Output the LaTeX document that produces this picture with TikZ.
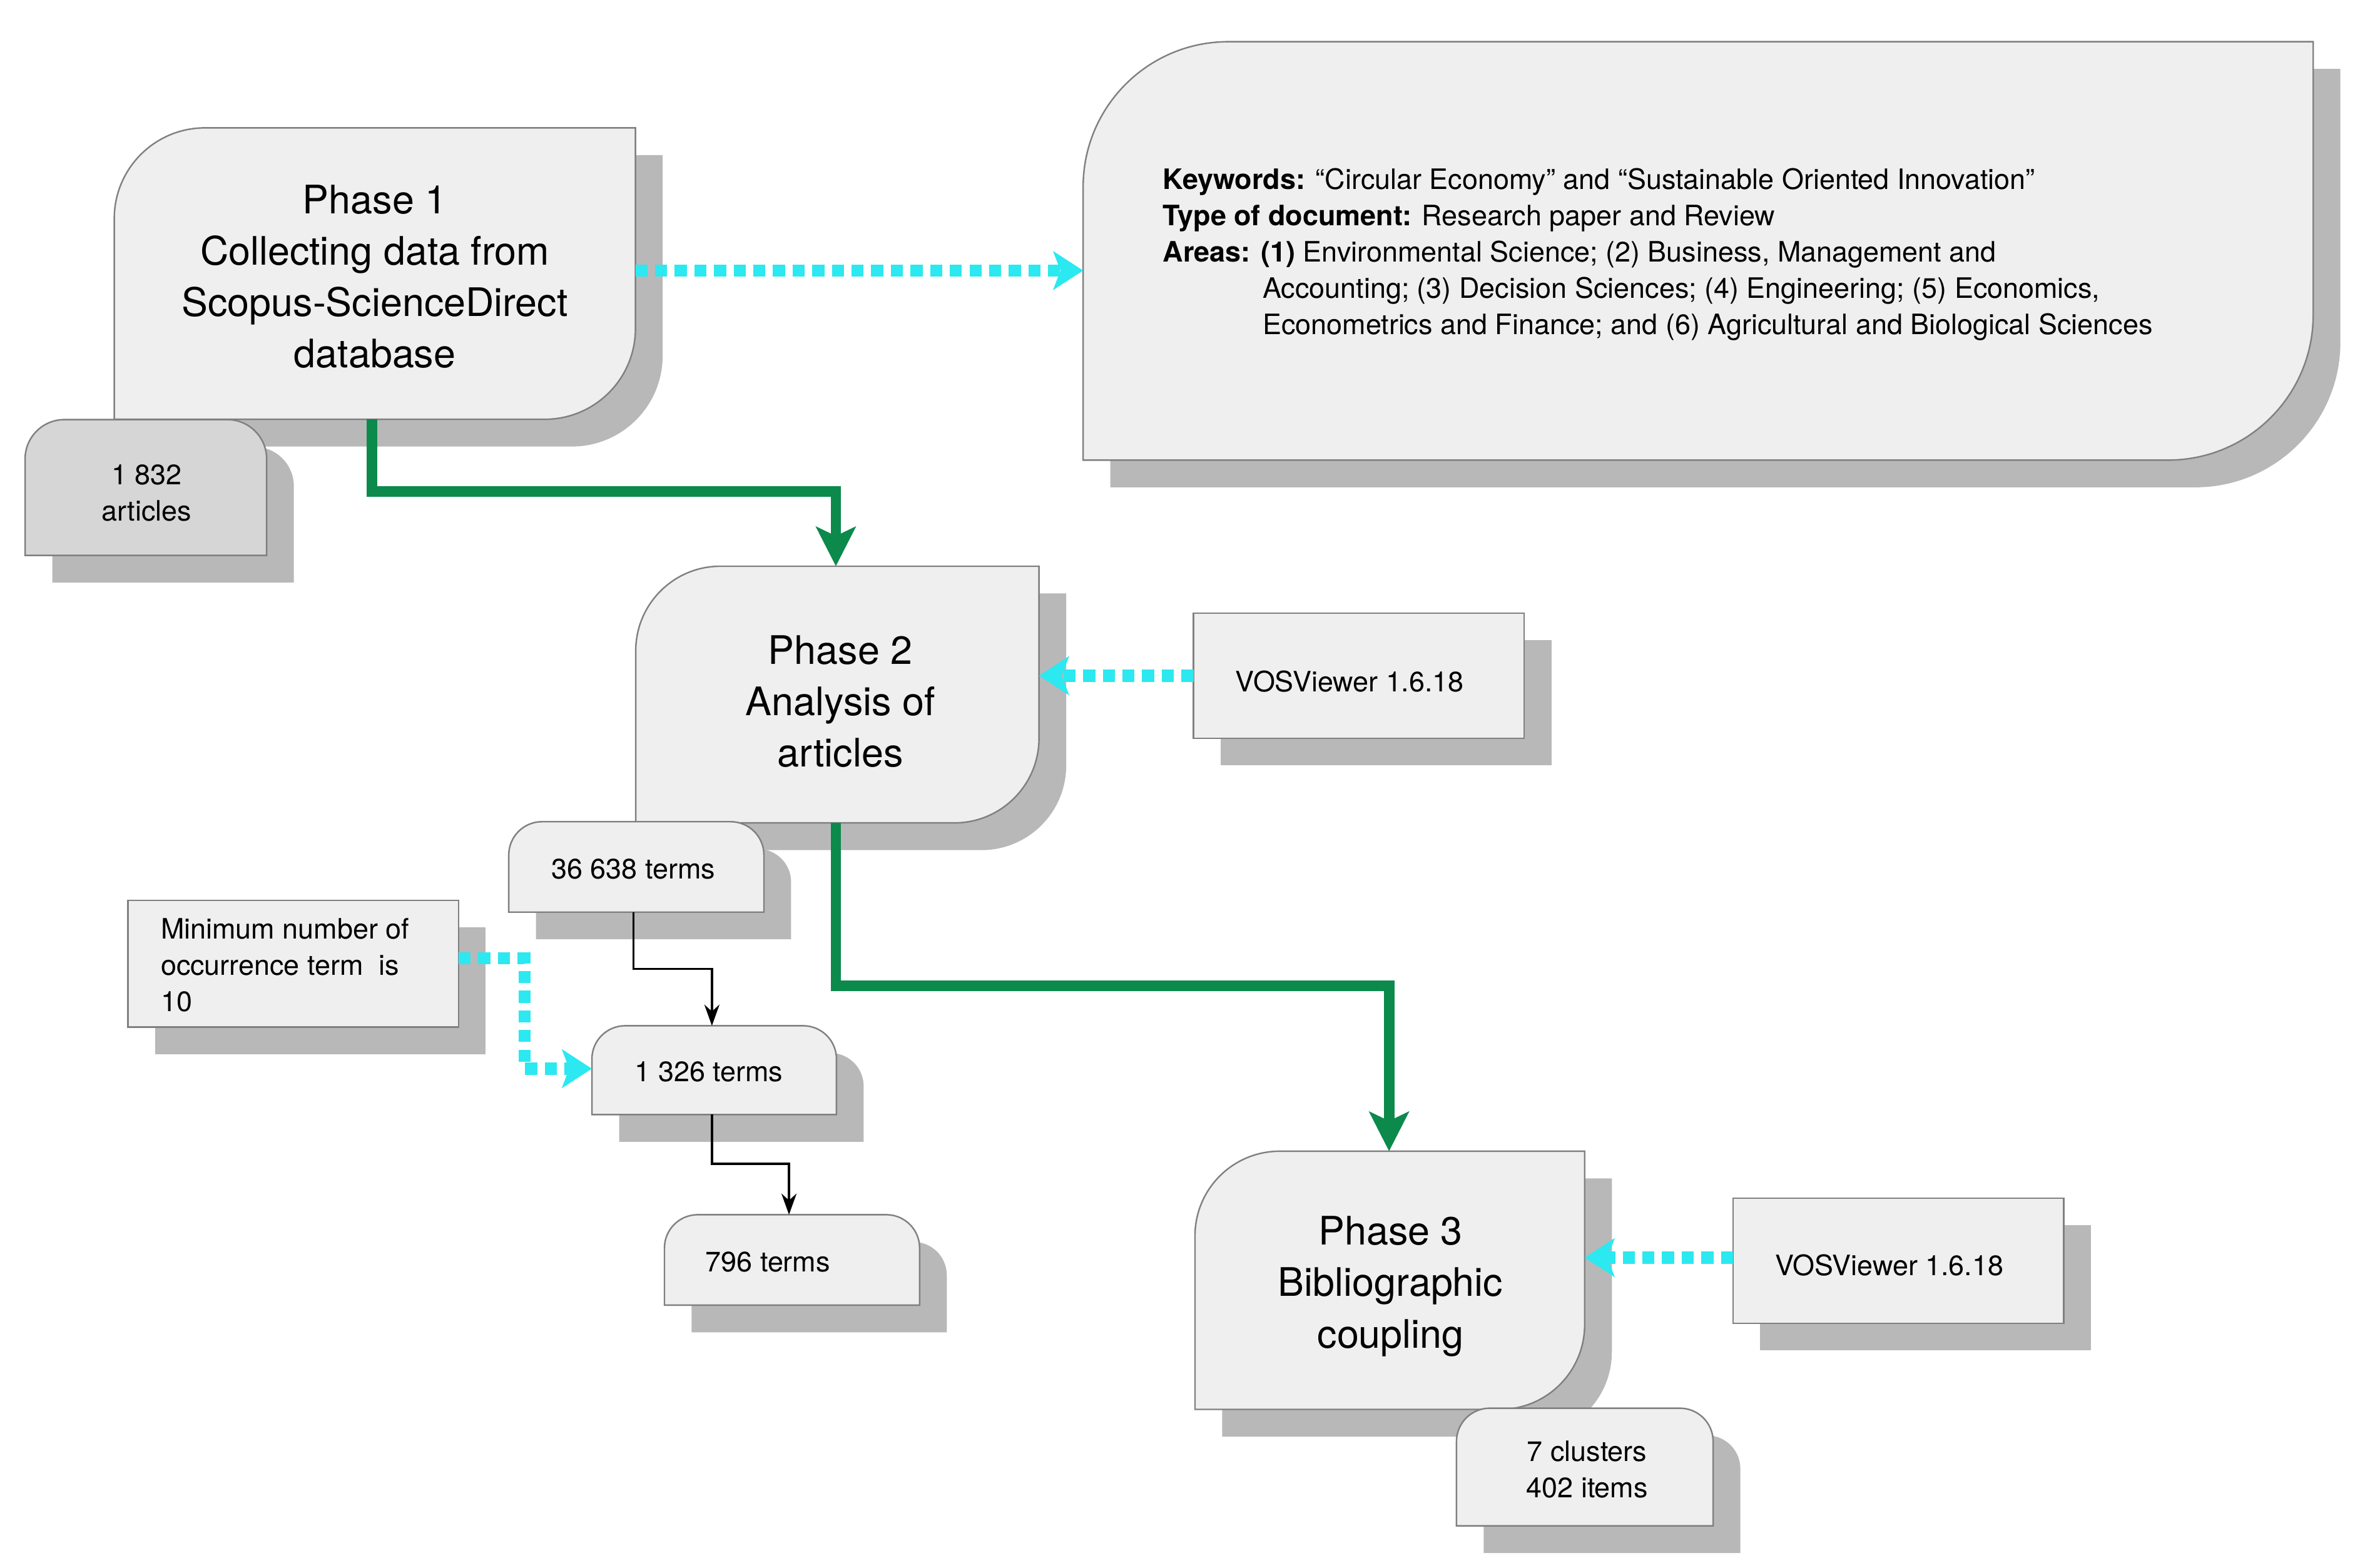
\documentclass[tikz,border=0pt]{standalone}
\usepackage{fontspec}
\setmainfont{TeX Gyre Heros}
\usetikzlibrary{arrows.meta,calc}
\definecolor{shc}{HTML}{B8B8B8}
\definecolor{boxc}{HTML}{EFEFEF}
\definecolor{darkbox}{HTML}{D6D6D6}
\definecolor{edgec}{HTML}{808080}
\definecolor{grn}{HTML}{0B8A4C}
\definecolor{cyn}{HTML}{2CE8F0}
\tikzset{
  boxst/.style={fill=boxc,draw=edgec,line width=0.5pt},
  big/.style={font=\fontsize{13}{17}\selectfont,align=center},
  small/.style={font=\fontsize{9.3}{12}\selectfont},
  area/.style={draw=none,inner sep=0pt},
  green arrow/.style={draw=grn,line width=3.5pt,-{Stealth[length=13pt,width=13pt,inset=3pt]}},
  cyan arrow/.style={draw=cyn,line width=4pt,dash pattern=on 4pt off 2.5pt,-{Stealth[length=10pt,width=13pt,inset=2.5pt,line width=0pt]}},
  black arrow/.style={draw=black,line width=0.7pt,-{Stealth[length=7pt,width=5pt]}},
}
% name, radius, shift, options : phase-like shape (top-left and bottom-right rounded)
\newcommand\PBshape[4]{\path[#4] let \p1=(#1.south west),\p2=(#1.north east) in
  (\x1+#3,\y1-#3) -- (\x1+#3,\y2-#2-#3) arc[start angle=180,end angle=90,radius=#2]
  -- (\x2+#3,\y2-#3) -- (\x2+#3,\y1+#2-#3) arc[start angle=0,end angle=-90,radius=#2] -- cycle;}
\newcommand\PB[2]{\PBshape{#1}{#2}{9pt}{fill=shc}\PBshape{#1}{#2}{0pt}{boxst}}
% tab shape (top corners rounded)
\newcommand\TBshape[4]{\path[#4] let \p1=(#1.south west),\p2=(#1.north east) in
  (\x1+#3,\y1-#3) -- (\x1+#3,\y2-#2-#3) arc[start angle=180,end angle=90,radius=#2]
  -- (\x2-#2+#3,\y2-#3) arc[start angle=90,end angle=0,radius=#2] -- (\x2+#3,\y1-#3) -- cycle;}
\newcommand\TB[3]{\TBshape{#1}{#2}{9pt}{fill=shc}\TBshape{#1}{#2}{0pt}{#3}}
\newcommand\RB[1]{\path[fill=shc] ([shift={(9pt,-9pt)}]#1.south west) rectangle ([shift={(9pt,-9pt)}]#1.north east);
  \path[boxst] (#1.south west) rectangle (#1.north east);}
% area node: name, x1,y1,x2,y2
\newcommand\A[5]{\node[area,minimum width={(#4-#2)*0.5pt},minimum height={(#5-#3)*0.5pt}] (#1) at ({(#2+#4)/2},{(#3+#5)/2}) {};}
\begin{document}
\begin{tikzpicture}[x=0.5pt,y=-0.5pt]
\useasboundingbox (0,0) rectangle (1568,1037);
% areas
\A{kw}{717}{28}{1530}{304}
\A{p1}{76}{85}{420}{277}
\A{a1}{17}{278}{176}{367}
\A{p2}{421}{375}{687}{544}
\A{v1}{790}{406}{1008}{488}
\A{t1}{337}{544}{505}{603}
\A{mn}{85}{596}{303}{679}
\A{t2}{392}{679}{553}{737}
\A{t3}{440}{804}{608}{863}
\A{p3}{791}{762}{1048}{932}
\A{v2}{1147}{793}{1365}{875}
\A{cl}{964}{932}{1133}{1009}
% shapes
\PB{kw}{48pt}
\PB{p1}{30pt}
\TB{a1}{13pt}{fill=darkbox,draw=edgec,line width=0.5pt}
\PB{p2}{28pt}
\RB{v1}
\TB{t1}{11pt}{boxst}
\RB{mn}
\TB{t2}{11pt}{boxst}
\TB{t3}{11pt}{boxst}
\PB{p3}{28pt}
\RB{v2}
\TB{cl}{11pt}{boxst}
% texts
\node[big] (p1t) at (248,183) {Phase 1\\Collecting data from\\Scopus-ScienceDirect\\database};
\node[small,align=center] (a1t) at (97,326) {1 832\\articles};
\node[small,anchor=north west,align=left,inner sep=0pt] (kwt) at (769,111) {%
\textbf{Keywords:} “Circular Economy” and “Sustainable Oriented Innovation”\\
\textbf{Type of document:} Research paper and Review\\
\textbf{Areas:} \textbf{(1)} Environmental Science; (2) Business, Management and\\
\hspace*{33pt}Accounting; (3) Decision Sciences; (4) Engineering; (5) Economics,\\
\hspace*{33pt}Econometrics and Finance; and (6) Agricultural and Biological Sciences};
\node[big] (p2t) at (556,464) {Phase 2\\Analysis of\\articles};
\node[small] (v1t) at (893,451) {VOSViewer 1.6.18};
\node[small] (t1t) at (419,575) {36 638 terms};
\node[small,align=left,anchor=north west,inner sep=0pt] (mnt) at (106,607) {Minimum number of\\occurrence term\ \ is\\10};
\node[small] (t2t) at (469,709) {1 326 terms};
\node[small] (t3t) at (508,835) {796 terms};
\node[big] (p3t) at (920,851) {Phase 3\\Bibliographic\\coupling};
\node[small] (v2t) at (1250,837) {VOSViewer 1.6.18};
\node[small,align=center] (clt) at (1050,972) {7 clusters\\402 items};
% connectors
\draw[green arrow] (p1.south -| 246,0) |- (553,325) -- (p2.north -| 553,0);
\draw[green arrow] (p2.south -| 553,0) |- (919,652) -- (p3.north -| 919,0);
\draw[cyan arrow] (p1.east |- 0,179) -- (kw.west |- 0,179);
\draw[cyan arrow] (v1.west |- 0,447) -- (p2.east |- 0,447);
\draw[cyan arrow] (v2.west |- 0,832) -- (p3.east |- 0,832);
\draw[cyan arrow] (mn.east |- 0,634) -| (347,707) -- (t2.west |- 0,707);
\draw[black arrow] (t1.south -| 419,0) |- (471,641) -- (t2.north -| 471,0);
\draw[black arrow] (t2.south -| 471,0) |- (522,770) -- (t3.north -| 522,0);
\end{tikzpicture}
\end{document}
